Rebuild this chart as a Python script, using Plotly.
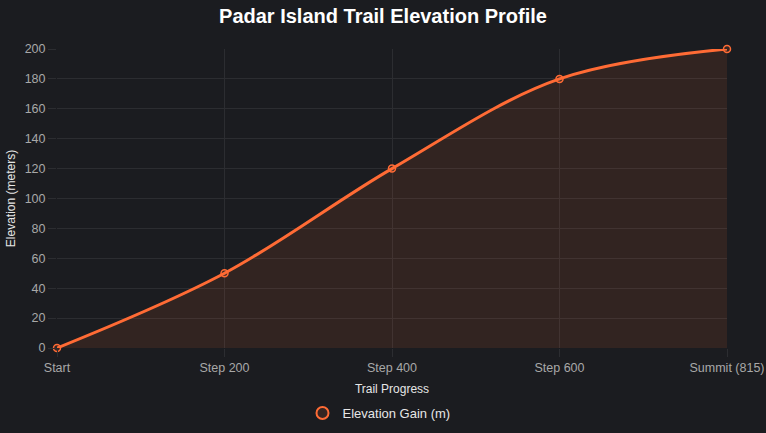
import plotly.graph_objects as go

categories = ["Start", "Step 200", "Step 400", "Step 600", "Summit (815)"]
elevation = [0, 50, 120, 180, 200]
series_name = "Elevation Gain (m)"
y_ticks = list(range(0, 201, 20))

bg = "#1b1c20"
orange = "#ff6b35"
grid = "#2c2d31"

fig = go.Figure()
fig.add_trace(go.Scatter(
    x=categories, y=elevation, name=series_name, showlegend=False,
    mode="lines",
    line=dict(color=orange, width=3, shape="spline", smoothing=1.0),
    fill="tozeroy", fillcolor="rgba(255,107,53,0.1)",
    hoverinfo="skip",
))
fig.add_trace(go.Scatter(
    x=categories, y=elevation, name=series_name, showlegend=True,
    mode="markers", cliponaxis=False,
    marker=dict(symbol="circle", size=7, color="rgba(255,107,53,0.12)",
                line=dict(color=orange, width=1.5)),
))

fig.update_layout(
    width=766, height=433,
    paper_bgcolor=bg, plot_bgcolor=bg,
    margin=dict(l=57, r=39, t=49, b=85),
    font=dict(family="Liberation Sans, Arial, sans-serif", color="#a8a8a8", size=12),
    title=dict(text="<b>Padar Island Trail Elevation Profile</b>", x=0.5, xanchor="center",
               y=0.962, yanchor="middle", font=dict(size=20, color="#ffffff")),
    showlegend=True,
    legend=dict(orientation="h", x=0.5 - 4 / 766, xanchor="center", xref="container",
                y=20 / 433, yanchor="middle", yref="container",
                itemsizing="constant",
                font=dict(color="#e6e6e6", size=13)),
    xaxis=dict(
        type="category", range=[0, 4], showgrid=True, gridcolor=grid, gridwidth=1,
        zeroline=False, showline=False, ticks="outside", ticklen=8, tickcolor=grid,
        tickfont=dict(color="#a8a8a8", size=12.5), automargin=False,
        title=dict(text="Trail Progress", font=dict(color="#e6e6e6", size=12), standoff=10),
    ),
    yaxis=dict(
        range=[0, 200], tickvals=y_ticks, showgrid=True, gridcolor=grid, gridwidth=1,
        zeroline=False, showline=False, ticks="outside", ticklen=8, tickcolor=grid,
        tickfont=dict(color="#a8a8a8", size=12.5), automargin=False,
        title=dict(text="Elevation (meters)", font=dict(color="#e6e6e6", size=12), standoff=6),
    ),
)

fig.write_html("out.html", config={"displayModeBar": False},
               post_script="document.body.style.margin='0';document.body.style.background='%s';" % bg)
